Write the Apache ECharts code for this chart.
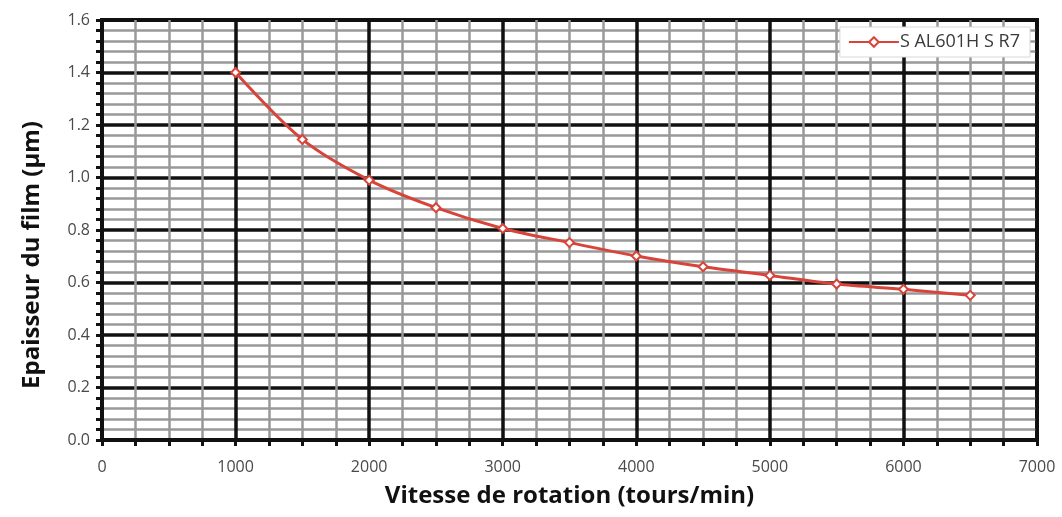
<!DOCTYPE html>
<html>
<head>
<meta charset="utf-8">
<script src="https://cdn.jsdelivr.net/npm/echarts@6/dist/echarts.min.js"></script>
<style>
  html, body { margin: 0; padding: 0; background: #ffffff; }
  #chart { width: 1062px; height: 517px; }
</style>
</head>
<body>
<div id="chart"></div>
<script>
// Spin speed (rpm) and resulting film thickness (µm)
const speeds = [1000, 1500, 2000, 2500, 3000, 3500, 4000, 4500, 5000, 5500, 6000, 6500];
const thickness = [1.40, 1.145, 0.99, 0.885, 0.806, 0.752, 0.701, 0.660, 0.627, 0.594, 0.574, 0.551];
const seriesName = 'S AL601H S R7';
const xTitle = 'Vitesse de rotation (tours/min)';
const yTitle = 'Epaisseur du film (µm)';

const red = '#d8443a';
const labelFont = { fontFamily: 'Open Sans', fontSize: 16, color: '#4a4a4a' };
const titleFont = { fontFamily: 'Open Sans', fontWeight: 'bold', fontSize: 24, color: '#111' };

const chart = echarts.init(document.getElementById('chart'), null, { renderer: 'canvas' });
chart.setOption({
  animation: false,
  backgroundColor: '#ffffff',
  grid: {
    left: 102, right: 25, top: 20, bottom: 77,
    show: true, borderColor: '#111', borderWidth: 4, backgroundColor: 'transparent'
  },
  legend: {
    data: [seriesName],
    right: 32, top: 27,
    backgroundColor: '#fff',
    borderColor: '#d8d8d8', borderWidth: 1,
    padding: [6, 10, 6, 8],
    itemWidth: 50, itemHeight: 12,
    itemGap: 4,
    textStyle: { fontFamily: 'Open Sans', fontSize: 18, color: '#3a3a3a', padding: [0, 0, 0, -4] }
  },
  xAxis: {
    type: 'value', min: 0, max: 7000, interval: 1000,
    name: xTitle, nameLocation: 'middle', nameGap: 44, nameTextStyle: titleFont,
    axisLine: { show: true, lineStyle: { color: '#111', width: 4 } },
    axisTick: { show: true, length: 6, lineStyle: { color: '#111', width: 3 } },
    minorTick: { show: true, splitNumber: 4, length: 6, lineStyle: { color: '#111', width: 3 } },
    axisLabel: Object.assign({ margin: 19, formatter: v => String(v) }, labelFont),
    splitLine: { show: true, lineStyle: { color: '#111', width: 3.5 } },
    minorSplitLine: { show: true, lineStyle: { color: '#999999', width: 2.5 } }
  },
  yAxis: {
    type: 'value', min: 0, max: 1.6, interval: 0.2,
    name: yTitle, nameLocation: 'middle', nameGap: 58,
    nameTextStyle: Object.assign({ padding: [0, 50, 0, 0] }, titleFont),
    axisLine: { show: true, lineStyle: { color: '#111', width: 4 } },
    axisTick: { show: true, length: 6, lineStyle: { color: '#111', width: 3 } },
    minorTick: { show: true, splitNumber: 5, length: 6, lineStyle: { color: '#111', width: 3 } },
    axisLabel: Object.assign({ margin: 12, formatter: v => v.toFixed(1) }, labelFont),
    splitLine: { show: true, lineStyle: { color: '#111', width: 3.5 } },
    minorSplitLine: { show: true, lineStyle: { color: '#999999', width: 2.5 } }
  },
  series: [{
    name: seriesName,
    type: 'line',
    data: speeds.map((s, i) => [s, thickness[i]]),
    smooth: 0.3,
    symbol: 'diamond',
    symbolSize: 9,
    lineStyle: { color: red, width: 3 },
    itemStyle: { color: '#fff', borderColor: red, borderWidth: 2 },
    z: 10
  }]
});
</script>
</body>
</html>
